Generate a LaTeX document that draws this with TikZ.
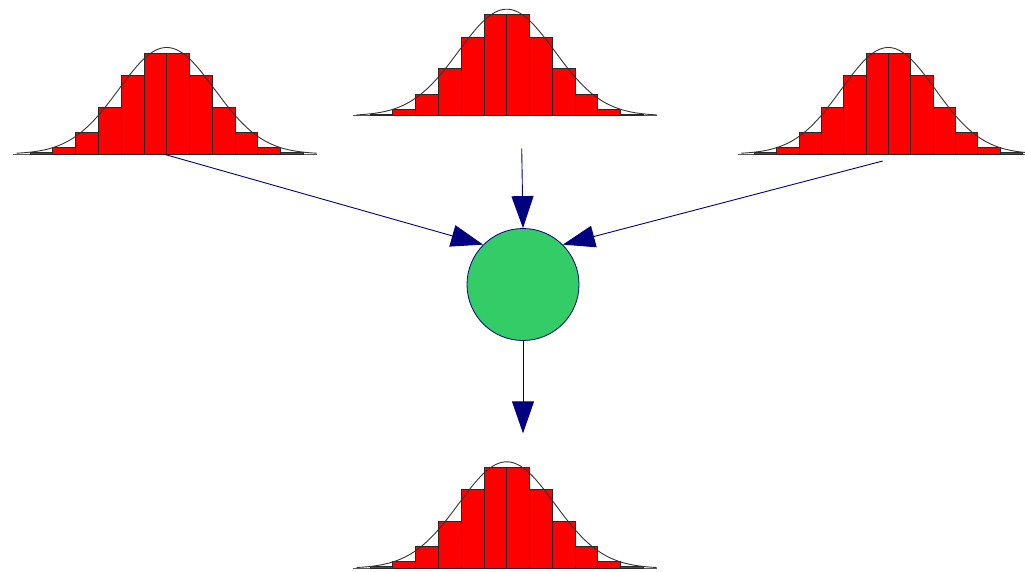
\documentclass[tikz,border=0pt]{standalone}
\usetikzlibrary{arrows.meta}
\definecolor{navy}{RGB}{0,0,128}
\definecolor{cgreen}{RGB}{51,204,102}
\definecolor{barline}{RGB}{40,40,40}
\definecolor{curvecol}{RGB}{50,50,50}
\tikzset{
  histbar/.style={fill=red, draw=barline, line width=0.8pt},
  histbase/.style={draw=gray!70!black, line width=1pt},
  histcurve/.style={draw=curvecol, line width=0.9pt},
  conn/.style={draw=navy, line width=0.9pt, -{Triangle[length=32pt,width=22pt]}},
  merge/.style={circle, draw=navy, fill=cgreen, line width=0.8pt, minimum size=112pt, inner sep=0pt}
}
\newcommand\histo[4]{%
\begin{scope}[shift={(#1,#2)}, xscale=#3]
  \draw[histbase] (-153.4,0) -- (150,0);
  \foreach \i/\h in {0/101, 1/78.5, 2/47, 3/21.5, 4/6.8, 5/1.7} {
    \draw[histbar] (\i*22.78,0) rectangle ++(22.78,-\h);
    \draw[histbar] (-\i*22.78,0) rectangle ++(-22.78,-\h);
  }
  \draw[histcurve] plot[domain=-150:150, samples=120, smooth] (\x, {-106.5*exp(-0.5*(\x/48)^2)});
  \coordinate (#4) at (0,0);
\end{scope}}
\begin{document}
\begin{tikzpicture}[x=1pt, y=-1pt]
  \useasboundingbox (0,0) rectangle (1025,571);
  \histo{166.7}{154}{1}{hA}
  \histo{506.7}{115.7}{1}{hB}
  \histo{888.3}{154}{0.98}{hC}
  \histo{506.7}{568.3}{1}{hD}
  \node[merge] (c) at (523,284.5) {};
  \coordinate (sA) at (163.3,154);
  \coordinate (sB) at (521.7,148.3);
  \coordinate (sC) at (882.7,161);
  \coordinate (eD) at (523,433.3);
  \draw[conn] (sA) -- (c.135);
  \draw[conn] (sB) -- (c.north);
  \draw[conn] (sC) -- (c.45);
  \draw[conn] (c.south) -- (eD);
\end{tikzpicture}
\end{document}
